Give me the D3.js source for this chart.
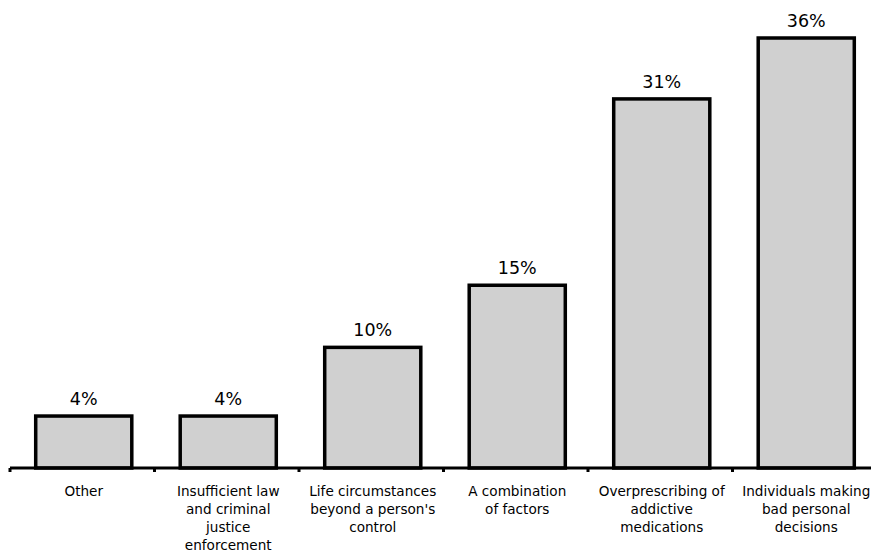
<!DOCTYPE html>
<html><head><meta charset="utf-8">
<script src="https://cdn.jsdelivr.net/npm/d3@7"></script>
<style>body{margin:0;background:#fff}svg{display:block}text{font-family:"DejaVu Sans",sans-serif}</style>
</head><body>
<svg id="c" width="871" height="552"></svg>
<script>
const categories = ["Other","Insufficient law and criminal justice enforcement","Life circumstances beyond a person's control","A combination of factors","Overprescribing of addictive medications","Individuals making bad personal decisions"];
const categoryLines = [["Other"],["Insufficient law","and criminal","justice","enforcement"],["Life circumstances","beyond a person's","control"],["A combination","of factors"],["Overprescribing of","addictive","medications"],["Individuals making","bad personal","decisions"]];
const values = [4.35, 4.35, 10.1, 15.3, 30.9, 36];
const valueLabels = ["4%","4%","10%","15%","31%","36%"];

const svg = d3.select("#c");
const baseY = 468;
const x = d3.scaleBand().domain(categories).range([11.5, 878.5]).paddingInner(0.335).paddingOuter(0.1675);
const y = d3.scaleLinear().domain([0, 36]).range([baseY, 38]);

svg.selectAll("rect.bar").data(values).join("rect")
  .attr("class","bar")
  .attr("x",(d,i)=>x(categories[i]))
  .attr("width",x.bandwidth())
  .attr("y",d=>y(d))
  .attr("height",d=>baseY-y(d))
  .attr("fill","#d0d0d0").attr("stroke","#000").attr("stroke-width",3.5);

svg.selectAll("text.val").data(values).join("text")
  .attr("class","val")
  .attr("x",(d,i)=>x(categories[i])+x.bandwidth()/2)
  .attr("y",d=>y(d)-11)
  .attr("text-anchor","middle").attr("font-size",17.5).attr("fill","#000")
  .text((d,i)=>valueLabels[i]);

// axis
const step = x.step();
const x0 = x.range()[0] - 1.5;
const edges = d3.range(categories.length+1).map(i=>x0+i*step);
svg.append("line").attr("x1",x0).attr("x2",880).attr("y1",baseY).attr("y2",baseY).attr("stroke","#000").attr("stroke-width",3);
svg.selectAll("line.tick").data(edges).join("line").attr("class","tick")
  .attr("x1",d=>d).attr("x2",d=>d).attr("y1",baseY).attr("y2",baseY+4).attr("stroke","#000").attr("stroke-width",3);

const lab = svg.selectAll("text.cat").data(categoryLines).join("text")
  .attr("class","cat").attr("text-anchor","middle").attr("font-size",13.6).attr("fill","#000");
lab.each(function(lines,i){
  const cx = x(categories[i])+x.bandwidth()/2;
  d3.select(this).selectAll("tspan").data(lines).join("tspan")
    .attr("x",cx).attr("y",(d,j)=>496+j*18).text(d=>d);
});
</script>
</body></html>
